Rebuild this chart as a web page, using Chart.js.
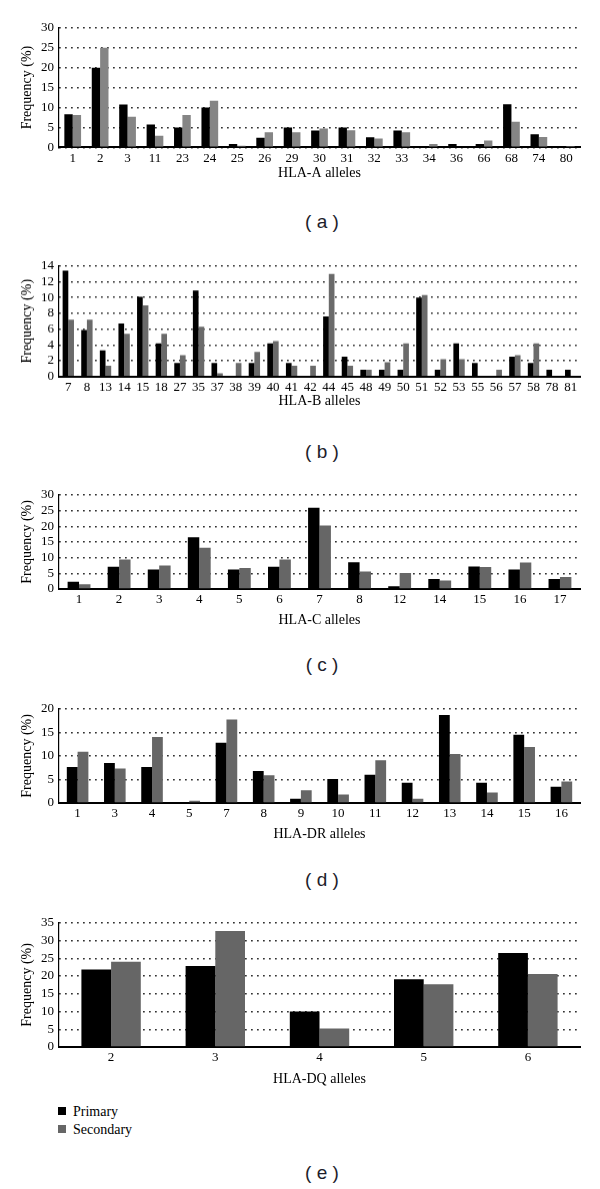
<!DOCTYPE html>
<html>
<head>
<meta charset="utf-8">
<script src="https://cdn.jsdelivr.net/npm/chart.js@4"></script>
<style>
  html, body { margin: 0; padding: 0; background: #fff; }
  #page { position: relative; width: 600px; height: 1189px; overflow: hidden; }
  .box { position: absolute; left: 0; width: 600px; }
  .tag { position: absolute; left: 322px; transform: translate(-50%, -50%); font: 19px 'Liberation Sans', Arial, sans-serif; color: #1d1d2b; white-space: pre; }
  .key { position: absolute; left: 58px; height: 16px; font: 14px 'Liberation Serif', serif; color: #000; line-height: 16px; }
  .key span { display: inline-block; width: 8px; height: 8px; margin-right: 7px; vertical-align: 1px; }
</style>
</head>
<body>
<div id="page"></div>
<script>
const seriesNames = ['Primary', 'Secondary'];

const aLabels = ['1', '2', '3', '11', '23', '24', '25', '26', '29', '30', '31', '32', '33', '34', '36', '66', '68', '74', '80'];
const aPrimary = [8.3, 20, 10.75, 5.75, 5, 10, 0.8, 2.4, 5, 4.2, 5, 2.5, 4.2, 0, 0.8, 0.8, 10.8, 3.3, 0];
const aSecondary = [8.1, 25, 7.7, 2.9, 8.1, 11.7, 0.4, 3.8, 3.8, 4.7, 4.25, 2.2, 3.8, 0.8, 0, 1.7, 6.4, 2.6, 0.3];

const bLabels = ['7', '8', '13', '14', '15', '18', '27', '35', '37', '38', '39', '40', '41', '42', '44', '45', '48', '49', '50', '51', '52', '53', '55', '56', '57', '58', '78', '81'];
const bPrimary = [13.4, 5.9, 3.3, 6.7, 10.1, 4.2, 1.7, 10.9, 1.7, 0, 1.7, 4.2, 1.7, 0, 7.6, 2.5, 0.85, 0.85, 0.85, 10.0, 0.85, 4.2, 1.7, 0, 2.5, 1.7, 0.85, 0.85];
const bSecondary = [7.2, 7.2, 1.35, 5.4, 9.0, 5.4, 2.7, 6.3, 0.4, 1.7, 3.1, 4.5, 1.35, 1.35, 13.0, 1.35, 0.85, 1.8, 4.2, 10.3, 2.2, 2.2, 0, 0.85, 2.7, 4.2, 0, 0];

const cLabels = ['1', '2', '3', '4', '5', '6', '7', '8', '12', '14', '15', '16', '17'];
const cPrimary = [2.3, 7.1, 6.2, 16.5, 6.2, 7.1, 25.9, 8.55, 0.85, 3.2, 7.2, 6.2, 3.2];
const cSecondary = [1.5, 9.4, 7.5, 13.1, 6.65, 9.4, 20.2, 5.6, 5.1, 2.7, 7.0, 8.4, 3.8];

const dLabels = ['1', '3', '4', '5', '7', '8', '9', '10', '11', '12', '13', '14', '15', '16'];
const dPrimary = [7.65, 8.5, 7.65, 0, 12.8, 6.8, 0.9, 5.1, 6.0, 4.3, 18.7, 4.3, 14.5, 3.45];
const dSecondary = [10.9, 7.3, 14.0, 0.5, 17.75, 5.9, 2.7, 1.8, 9.1, 0.9, 10.4, 2.25, 11.9, 4.55];

const eLabels = ['2', '3', '4', '5', '6'];
const ePrimary = [21.85, 22.8, 10.0, 19.1, 26.5];
const eSecondary = [24.0, 32.7, 5.2, 17.7, 20.6];

// layout of each panel (plot top/bottom in page pixels)
const panels = [
    { tag: 'a', labels: aLabels, primary: aPrimary, secondary: aSecondary, title: 'HLA-A alleles', max: 30, step: 5, top: 26.7, bottom: 147, titleGap: 26, cat: 0.61, grey: '#858585', tagY: 222 },
    { tag: 'b', labels: bLabels, primary: bPrimary, secondary: bSecondary, title: 'HLA-B alleles', max: 14, step: 2, top: 265, bottom: 375.7, titleGap: 24.5, cat: 0.61, grey: '#6a6a6a', tagY: 452 },
    { tag: 'c', labels: cLabels, primary: cPrimary, secondary: cSecondary, title: 'HLA-C alleles', max: 30, step: 5, top: 494, bottom: 589, titleGap: 31.7, cat: 0.57, grey: '#666666', tagY: 665 },
    { tag: 'd', labels: dLabels, primary: dPrimary, secondary: dSecondary, title: 'HLA-DR alleles', max: 20, step: 5, top: 707.7, bottom: 802.7, titleGap: 31.3, cat: 0.58, grey: '#666666', tagY: 880 },
    { tag: 'e', labels: eLabels, primary: ePrimary, secondary: eSecondary, title: 'HLA-DQ alleles', max: 35, step: 5, top: 921.7, bottom: 1046.7, titleGap: 32.3, cat: 0.57, grey: '#666666', tagY: 1173 }
];

const page = document.getElementById('page');
const serif = "'Liberation Serif', 'Times New Roman', serif";
const padTop = 12;
const titleHalf = 8.4;

panels.forEach(p => {
    const xHeight = p.titleGap + titleHalf;
    const box = document.createElement('div');
    box.className = 'box';
    box.style.top = (p.top - padTop) + 'px';
    box.style.height = (padTop + (p.bottom - p.top) + xHeight) + 'px';
    const canvas = document.createElement('canvas');
    box.appendChild(canvas);
    page.appendChild(box);

    new Chart(canvas, {
        type: 'bar',
        data: {
            labels: p.labels,
            datasets: [{
                label: seriesNames[0],
                data: p.primary,
                backgroundColor: '#000000',
                borderWidth: 0
            }, {
                label: seriesNames[1],
                data: p.secondary,
                backgroundColor: p.grey,
                borderWidth: 0
            }]
        },
        options: {
            responsive: true,
            maintainAspectRatio: false,
            animation: false,
            layout: { padding: { top: padTop, left: 19, right: 20, bottom: 0 } },
            datasets: { bar: { barPercentage: 1, categoryPercentage: p.cat } },
            plugins: { legend: { display: false }, tooltip: { enabled: false } },
            scales: {
                x: {
                    grid: { display: false, drawTicks: false },
                    border: { display: true, color: '#000', width: 2 },
                    ticks: { color: '#000', padding: 3, maxRotation: 0, autoSkip: false, font: { family: serif, size: 13 } },
                    title: { display: true, text: p.title, color: '#000', padding: 0, font: { family: serif, size: 14 } },
                    afterFit: s => { s.height = xHeight; }
                },
                y: {
                    min: 0,
                    max: p.max,
                    grid: { color: '#000', lineWidth: 1.4, drawTicks: false },
                    border: { display: true, color: '#000', width: 1.2, dash: [1.4, 4.6] },
                    ticks: { stepSize: p.step, autoSkip: false, color: '#000', padding: 5, font: { family: serif, size: 13 } },
                    title: { display: true, text: 'Frequency (%)', color: '#000', padding: 0, font: { family: serif, size: 14 } },
                    afterFit: s => { s.width = 40; }
                }
            }
        }
    });

    const tag = document.createElement('div');
    tag.className = 'tag';
    tag.style.top = p.tagY + 'px';
    tag.textContent = '( ' + p.tag + ' )';
    page.appendChild(tag);
});

// legend under the last panel
const keyColours = ['#000000', panels[4].grey];
[1112, 1129.5].forEach((y, i) => {
    const key = document.createElement('div');
    key.className = 'key';
    key.style.top = (y - 8) + 'px';
    const sw = document.createElement('span');
    sw.style.background = keyColours[i];
    key.appendChild(sw);
    key.appendChild(document.createTextNode(seriesNames[i]));
    page.appendChild(key);
});
</script>
</body>
</html>
